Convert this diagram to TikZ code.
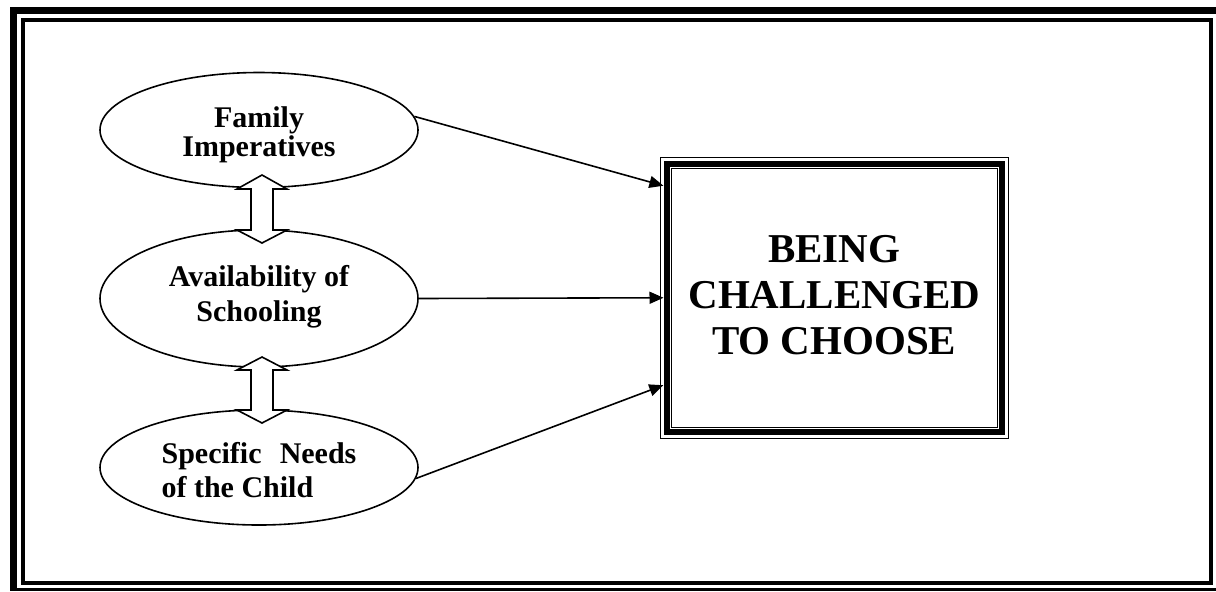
\documentclass[tikz,border=0pt]{standalone}
\usepackage{fontspec}
\setmainfont{Liberation Serif}
\usetikzlibrary{arrows.meta,shapes.geometric,calc}
\begin{document}
\begin{tikzpicture}[x=0.5pt,y=-0.5pt,
  ell/.style={ellipse, draw, line width=0.8pt, inner sep=0pt, minimum width=159pt},
  etext/.style={align=center, font=\bfseries\fontsize{15}{#1}\selectfont, inner sep=0pt},
  conn/.style={-{Triangle[length=7pt,width=6pt]}, line width=0.8pt},
  blockarrow/.style={draw, fill=white, line width=0.8pt, line join=miter},
  framefill/.style={fill=black}]
\useasboundingbox (0,0) rectangle (1216,591);
% page frame
\fill[framefill] (10,7) rectangle (17,591);
\fill[framefill] (10,7) rectangle (1216,14);
\fill[framefill] (10,588) rectangle (1216,591);
\fill[framefill] (21,18) rectangle (24.5,585);
\fill[framefill] (21,18) rectangle (1213,21.5);
\fill[framefill] (1209,18) rectangle (1213,585);
\fill[framefill] (21,581) rectangle (1213,585);
% ellipses
\node[ell, minimum height=57.5pt,
  label={[etext=14.5, yshift=-2.3pt]center:{Family\\Imperatives}}] (fam) at (259,130) {};
\node[ell, minimum height=68.5pt,
  label={[etext=17.5, yshift=1pt]center:{Availability of\\Schooling}}] (avail) at (259,298.5) {};
\node[ell, minimum height=57.5pt,
  label={[etext=17, align=left, yshift=-1.15pt]center:{Specific\hspace{9.1pt}Needs\\of the Child}}] (spec) at (259,467.5) {};
% block double arrows
\draw[blockarrow] (262,175) -- (287,189) -- (273,189) -- (273,230) -- (287,230) -- (262,243)
  -- (237,230) -- (251,230) -- (251,189) -- (237,189) -- cycle;
\draw[blockarrow] (262,357) -- (287,370) -- (273,370) -- (273,410) -- (287,410) -- (262,423)
  -- (237,410) -- (251,410) -- (251,370) -- (237,370) -- cycle;
% main box
\node[draw, line width=0.5pt, outer sep=0pt, inner sep=0pt,
  minimum width=173.75pt, minimum height=140.25pt,
  label={[align=center, font=\bfseries\fontsize{20.5}{23}\selectfont, yshift=1.25pt]center:{BEING\\CHALLENGED\\TO CHOOSE}}] (box) at (834.25,297.75) {};
\draw[line width=3pt] ($(box.north west)+(6,6)$) rectangle ($(box.south east)+(-6,-6)$);
\draw[line width=0.5pt] ($(box.north west)+(11,11)$) rectangle ($(box.south east)+(-11,-11)$);
% connectors
\draw[conn, shorten >=-1.5pt] (fam.5) -- (box.147);
\draw[conn, shorten >=-1.5pt] (avail.east) -- (box.west);
\draw[conn, shorten >=-1.5pt] (spec.-4) -- (box.207.45);
\end{tikzpicture}
\end{document}
